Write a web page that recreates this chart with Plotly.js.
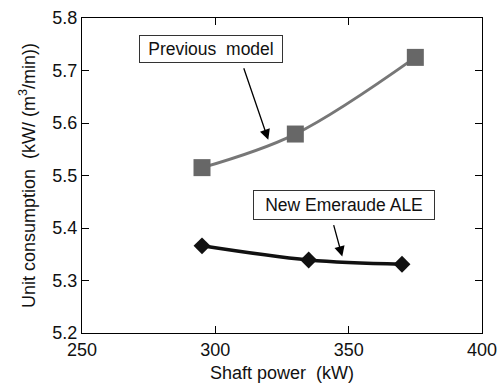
<!DOCTYPE html>
<html>
<head>
<meta charset="utf-8">
<script src="https://cdn.plot.ly/plotly-3.0.1.min.js"></script>
<style>html,body{margin:0;padding:0;background:#fff;}#chart{width:499px;height:383px;}</style>
</head>
<body>
<div id="chart"></div>
<script>
// Data
const prevPower = [295, 330, 375];
const prevConsumption = [5.515, 5.579, 5.725];
const newPower = [295, 335, 370];
const newConsumption = [5.366, 5.339, 5.331];
const xTicks = [250, 300, 350, 400];
const yTicks = [5.2, 5.3, 5.4, 5.5, 5.6, 5.7, 5.8];
const labelPrev = 'Previous  model';
const labelNew = 'New Emeraude ALE';

const FONT = 'Liberation Sans, Arial, sans-serif';

const traces = [
  {
    x: prevPower, y: prevConsumption, type: 'scatter', mode: 'lines+markers',
    line: {shape: 'spline', color: '#777777', width: 3},
    marker: {symbol: 'square', size: 17, color: '#676767'},
    showlegend: false, hoverinfo: 'skip'
  },
  {
    x: newPower, y: newConsumption, type: 'scatter', mode: 'lines+markers',
    line: {shape: 'spline', color: '#111111', width: 3.5},
    marker: {symbol: 'diamond', size: 13, color: '#111111'},
    showlegend: false, hoverinfo: 'skip'
  }
];

const axisCommon = {
  showgrid: false, zeroline: false, showline: true, linecolor: '#000', linewidth: 1,
  mirror: 'ticks', ticks: 'inside', ticklen: 7, tickwidth: 1, tickcolor: '#000',
  tickfont: {family: FONT, size: 18, color: '#111'}
};

const layout = {
  width: 499, height: 383,
  margin: {l: 82, r: 17, t: 18, b: 50},
  paper_bgcolor: '#fff', plot_bgcolor: '#fff',
  font: {family: FONT, color: '#111'},
  xaxis: Object.assign({}, axisCommon, {
    range: [250, 400], tickvals: xTicks, ticktext: xTicks.map(String),
    title: {text: 'Shaft power  (kW)', font: {family: FONT, size: 18, color: '#111'}, standoff: 8}
  }),
  yaxis: Object.assign({}, axisCommon, {
    range: [5.2, 5.8], tickvals: yTicks, ticktext: yTicks.map(v => v.toFixed(1)),
    title: {text: 'Unit consumption  (kW/ (m<sup>3</sup>/min))', font: {family: FONT, size: 18, color: '#111'}, standoff: 12}
  }),
  annotations: [
    {x: 298.4, y: 5.7415, xref: 'x', yref: 'y', text: labelPrev, showarrow: false,
     font: {family: FONT, size: 17.5, color: '#111'}, bgcolor: '#fff', bordercolor: '#333', borderwidth: 1,
     borderpad: 0, width: 142, height: 26},
    {x: 348.1, y: 5.4446, xref: 'x', yref: 'y', text: labelNew, showarrow: false,
     font: {family: FONT, size: 17.5, color: '#111'}, bgcolor: '#fff', bordercolor: '#333', borderwidth: 1,
     borderpad: 0, width: 180, height: 28},
    {x: 319.85, y: 5.568, xref: 'x', yref: 'y', text: '', showarrow: true, ax: -25, ay: -73,
     arrowhead: 2, arrowsize: 1.6, arrowwidth: 1.3, arrowcolor: '#000', standoff: 0},
    {x: 347.6, y: 5.3455, xref: 'x', yref: 'y', text: '', showarrow: true, ax: -9, ay: -33,
     arrowhead: 2, arrowsize: 1.6, arrowwidth: 1.3, arrowcolor: '#000', standoff: 0}
  ]
};

Plotly.newPlot('chart', traces, layout, {displayModeBar: false, staticPlot: true});
</script>
</body>
</html>
